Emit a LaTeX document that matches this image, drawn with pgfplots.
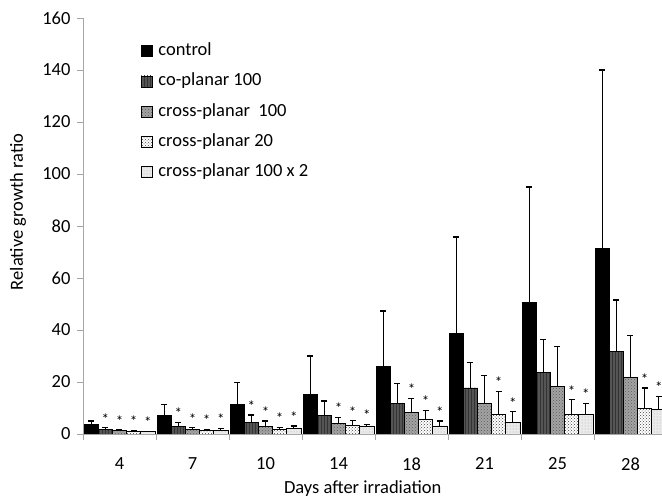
\documentclass[border=0pt]{standalone}
\usepackage{fontspec}
\setmainfont{Carlito}
\usepackage{pgfplots}
\pgfplotsset{compat=1.18}
\usepackage{pgfplotstable}
\usetikzlibrary{patterns,plotmarks}

\definecolor{axisgray}{HTML}{A6A6A6}
\definecolor{coplanar}{HTML}{555555}
\definecolor{cross100}{HTML}{A4A4A4}
\definecolor{cross1002}{HTML}{EBEBEB}

% value and upper error for each group (days 4,7,10,14,18,21,25,28)
\pgfplotstableread{
x c    ce   cp   cpe  xa   xae  xb   xbe  xd   xde
0 3.5  1.5  1.8  0.6  1.3  0.3  1.15 0.25 0.9  0.2
1 7.0  4.4  2.8  1.7  1.8  0.6  1.4  0.3  1.4  0.8
2 11.5 8.2  4.4  2.9  2.8  2.2  1.9  0.7  2.2  0.9
3 15.3 14.7 7.3  5.4  4.1  2.3  3.2  1.9  3.1  0.6
4 25.9 21.4 11.8 7.6  8.3  5.4  5.5  3.5  3.1  1.9
5 38.5 37.3 17.7 9.7  11.8 10.6 7.6  8.7  4.5  4.0
6 50.5 44.5 23.8 12.6 18.2 15.3 7.6  5.6  7.4  4.3
7 71.2 68.8 31.9 19.6 21.8 16.2 9.7  8.0  9.4  5.1
}\growth

\pgfplotsset{
  bars/.style={ybar, bar width=0.194, bar shift=0, draw=black, line width=0.8pt},
  star/.style={only marks, mark=text, text mark as node=true,
    text mark={\fontsize{15}{15}\selectfont *},
    text mark style={yshift=9pt, inner sep=0pt}, forget plot},
}

\begin{document}
\begin{tikzpicture}
\begin{axis}[
  name=ax,
  scale only axis,
  width=584pt, height=416pt,
  xmin=-0.5, xmax=7.5, ymin=0, ymax=160,
  axis lines*=left,
  axis line style={axisgray, line width=0.8pt},
  every tick/.style={axisgray, line width=0.8pt},
  tick align=outside,
  major tick length=6pt, minor tick length=6pt,
  xtick={0,...,7},
  xticklabels={4,7,10,14,18,21,25,28},
  major x tick style={draw=none},
  minor xtick={-0.5,0.5,...,7.5},
  ytick={0,20,...,160},
  /pgf/number format/assume math mode=true,
  tick label style={font=\fontsize{18.5}{22}\selectfont, black},
  xticklabel style={yshift=-14pt},
  yticklabel style={xshift=-3pt},
  xlabel={Days after irradiation},
  ylabel={Relative growth ratio},
  label style={font=\fontsize{18.5}{22}\selectfont},
  xlabel style={at={(axis description cs:0.479,0)}, anchor=north, inner sep=0pt, yshift=-46pt},
  ylabel style={at={(axis description cs:-0.1113,0.534)}, anchor=center, inner sep=0pt},
  legend style={at={(axis description cs:0.094,0.952)}, anchor=north west,
    draw=none, fill=none, font=\fontsize{18.5}{22}\selectfont,
    nodes={inner sep=2.5pt, text height=13pt, text depth=4pt}, row sep=8.3pt,
    /tikz/every odd column/.append style={column sep=3pt}},
  legend cell align=left,
  legend image code/.code={\draw[#1] (0pt,-5.5pt) rectangle (11pt,5.5pt);},
  error bars/y dir=plus,
  error bars/y explicit,
  error bars/error bar style={black, line width=1.2pt},
  error bars/error mark options={rotate=90, black, mark size=3pt, line width=1.2pt},
  clip=true,
]
\addplot[bars, fill=black]
  table[x expr=\thisrow{x}-0.388, y=c, y error=ce] {\growth};
\addlegendentry{control}
\addplot[bars, fill=coplanar, postaction={pattern=vertical lines, pattern color=black!80}]
  table[x expr=\thisrow{x}-0.194, y=cp, y error=cpe] {\growth};
\addlegendentry{co-planar 100}
\addplot[bars, fill=cross100, postaction={pattern=crosshatch dots, pattern color=gray!70!black}]
  table[x expr=\thisrow{x}, y=xa, y error=xae] {\growth};
\addlegendentry{cross-planar\ \ 100}
\addplot[bars, fill=white, postaction={pattern=crosshatch dots, pattern color=black!75}]
  table[x expr=\thisrow{x}+0.194, y=xb, y error=xbe] {\growth};
\addlegendentry{cross-planar 20}
\addplot[bars, fill=cross1002, postaction={pattern=dots, pattern color=gray!70}]
  table[x expr=\thisrow{x}+0.388, y=xd, y error=xde] {\growth};
\addlegendentry{cross-planar 100 x 2}

% significance marks above the error bars
\addplot[star] coordinates {(-0.194,2.4) (0.806,4.5) (1.806,7.3)};
\addplot[star] coordinates {(0,1.6) (1,2.4) (2,5.0) (3,6.4) (4,13.7)};
\addplot[star] coordinates {(0.194,1.4) (1.194,1.7) (2.194,2.6) (3.194,5.1) (4.194,9.0) (5.194,16.3) (6.194,13.2) (7.194,17.7)};
\addplot[star] coordinates {(0.388,1.1) (1.388,2.2) (2.388,3.1) (3.388,3.7) (4.388,5.0) (5.388,8.5) (6.388,11.7) (7.388,14.5)};
\end{axis}
\pgfresetboundingbox
\useasboundingbox ([shift={(-83pt,-64pt)}]ax.south west) rectangle ([shift={(579pt,434pt)}]ax.south west);
\end{tikzpicture}
\end{document}
